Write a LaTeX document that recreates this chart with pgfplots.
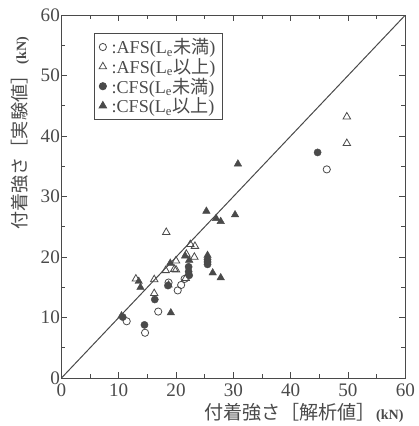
\documentclass[border=0pt]{standalone}
\usepackage{fontspec}
\setmainfont{Liberation Serif}
\newfontfamily\jp{Noto Sans CJK JP}
\usepackage{pgfplots}
\pgfplotsset{compat=1.18}

\definecolor{ink}{HTML}{4A4A4A}

\begin{document}
\begin{tikzpicture}[font=\fontsize{15}{18}\selectfont, color=ink]
\begin{axis}[
    width=342pt, height=361pt,
    scale only axis,
    xmin=0, xmax=60, ymin=0, ymax=60,
    xtick={0,10,...,60}, ytick={0,10,...,60},
    xticklabels={0,10,20,30,40,50,60},
    yticklabels={0,10,20,30,40,50,60},
    minor x tick num=1, minor y tick num=1,
    tick align=inside,
    major tick length=6pt, minor tick length=4pt,
    axis line style={ink, line width=0.9pt},
    every tick/.style={ink, line width=0.8pt},
    tick label style={font=\rmfamily\fontsize{19}{21}\selectfont, text=ink},
    xticklabel style={yshift=-2pt},
    yticklabel style={xshift=2pt},
    xlabel={{\jp\fontsize{19}{21}\selectfont 付着強さ［解析値］}{\bfseries\fontsize{14}{16}\selectfont (kN)}},
    ylabel={{\jp\fontsize{18}{21}\selectfont 付着強さ［実験値］}\,{\bfseries\fontsize{14}{16}\selectfont (kN)}},
    xlabel style={at={(axis description cs:1.005,-0.06)}, anchor=north east, text=ink},
    ylabel style={at={(axis description cs:-0.12,0.95)}, anchor=east, text=ink},
    legend style={at={(axis description cs:0.094,0.95)}, anchor=north west,
        draw=ink, line width=0.8pt, fill=white, text=ink,
        font=\rmfamily\fontsize{18}{20}\selectfont, row sep=-1pt,
        inner xsep=5pt, inner ysep=3pt},
    legend cell align=left,
]
\coordinate (tl) at (rel axis cs:0,1);
\addplot[ink, line width=1pt, forget plot] coordinates {(0,0)(60,60)};

% AFS (Le未満): open circles
\addplot[only marks, mark=o, mark size=3.6pt, ink, line width=0.8pt] coordinates {
(11.4,9.4)(14.6,7.5)(16.9,11.0)(20.3,14.5)(20.9,15.4)(21.5,16.4)(18.7,15.8)(46.3,34.5)
};
% AFS (Le以上): open triangles
\addplot[only marks, mark=triangle, mark size=4.3pt, ink, line width=0.8pt] coordinates {
(18.3,24.1)(22.5,22.1)(23.3,21.8)(21.8,20.5)(23.2,20.0)(20.0,19.4)(20.0,17.9)(18.2,17.8)
(13.0,16.4)(16.2,16.3)(21.7,16.5)(16.2,14.0)(19.7,18.0)(49.8,43.2)(49.8,38.8)
};
% CFS (Le未満): filled circles
\addplot[only marks, mark=*, mark size=3.6pt, ink, fill=ink] coordinates {
(10.7,10.1)(14.5,8.8)(16.3,13.0)(22.2,18.4)(22.2,17.6)(22.3,17.0)(25.5,19.6)(25.5,18.8)
(25.5,19.2)(44.7,37.3)(18.6,15.3)
};
% CFS (Le以上): filled triangles
\addplot[only marks, mark=triangle*, mark size=4.3pt, ink, fill=ink] coordinates {
(30.8,35.4)(25.3,27.6)(27.0,26.4)(27.8,25.9)(30.3,27.0)(26.4,17.4)(27.8,16.6)(19.1,10.8)
(13.5,16.0)(13.8,15.0)(19.0,19.0)(21.6,20.2)(22.3,19.5)(25.5,20.3)(18.7,15.4)(10.5,10.3)
};
\legend{{\,:AFS(L$_{\mathrm{e}}${\jp 未満})},
        {\,:AFS(L$_{\mathrm{e}}${\jp 以上})},
        {\,:CFS(L$_{\mathrm{e}}${\jp 未満})},
        {\,:CFS(L$_{\mathrm{e}}${\jp 以上})}}
\end{axis}
% margin so that the axis sits where it does in the reference
\path ([xshift=-61pt,yshift=15pt]tl);
\end{tikzpicture}
\end{document}
